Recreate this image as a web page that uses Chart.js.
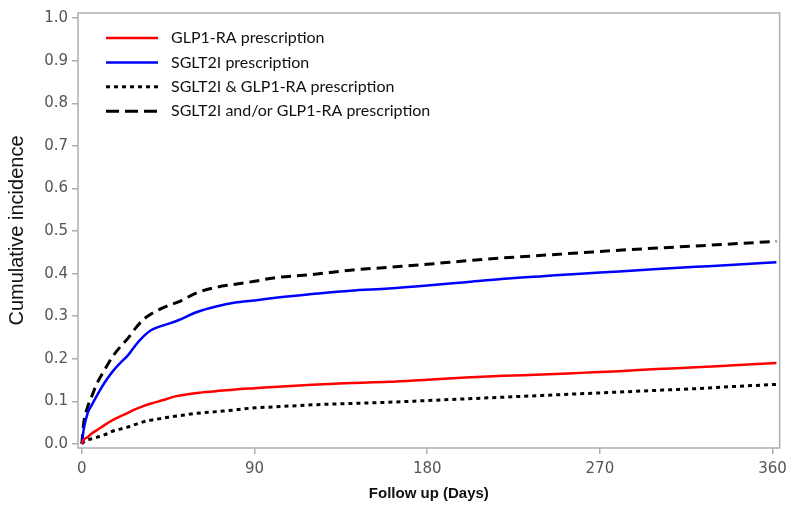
<!DOCTYPE html>
<html>
<head>
<meta charset="utf-8">
<script src="https://cdn.jsdelivr.net/npm/chart.js@4"></script>
<style>
  html, body { margin: 0; padding: 0; background: #fff; }
</style>
</head>
<body>
<canvas id="chart" width="793" height="512"></canvas>
<script>
const days = [0, 1, 3, 5, 8, 12, 16, 20, 24, 28, 32, 36, 40, 45, 50, 60, 70, 80, 90, 100,
  120, 140, 160, 180, 200, 220, 240, 260, 280, 300, 320, 340, 362];

const glp1 = [0, 0.010, 0.016, 0.024, 0.033, 0.045, 0.056, 0.065, 0.073, 0.082, 0.089, 0.095, 0.100, 0.107, 0.113, 0.120, 0.124, 0.128, 0.131, 0.134,
  0.139, 0.143, 0.146, 0.151, 0.156, 0.160, 0.163, 0.167, 0.171, 0.176, 0.180, 0.185, 0.190];

const sglt2 = [0, 0.035, 0.072, 0.090, 0.115, 0.145, 0.170, 0.190, 0.208, 0.232, 0.252, 0.267, 0.275, 0.282, 0.290, 0.310, 0.323, 0.332, 0.337, 0.343,
  0.352, 0.360, 0.365, 0.372, 0.380, 0.388, 0.394, 0.400, 0.405, 0.411, 0.416, 0.421, 0.427];

const both = [0, 0.005, 0.010, 0.012, 0.016, 0.022, 0.030, 0.035, 0.040, 0.046, 0.052, 0.056, 0.059, 0.063, 0.066, 0.072, 0.076, 0.080, 0.085, 0.087,
  0.092, 0.095, 0.098, 0.102, 0.106, 0.110, 0.114, 0.118, 0.122, 0.126, 0.130, 0.135, 0.140];

const either = [0, 0.050, 0.087, 0.110, 0.143, 0.175, 0.205, 0.228, 0.248, 0.272, 0.292, 0.305, 0.315, 0.325, 0.333, 0.355, 0.368, 0.375, 0.382, 0.390,
  0.398, 0.408, 0.415, 0.422, 0.430, 0.437, 0.443, 0.449, 0.455, 0.460, 0.465, 0.470, 0.476];

const xTicks = [0, 90, 180, 270, 360];
const yTicks = [0, 0.1, 0.2, 0.3, 0.4, 0.5, 0.6, 0.7, 0.8, 0.9, 1.0];

const labels = ['GLP1-RA prescription', 'SGLT2I prescription', 'SGLT2I & GLP1-RA prescription', 'SGLT2I and/or GLP1-RA prescription'];

const pts = arr => days.map((d, i) => ({ x: d, y: arr[i] }));

const axisGray = '#a9b1b3';
const tickFont = { family: 'DejaVu Sans', size: 15 };

// grey frame around the plot
const boxPlugin = {
  id: 'box',
  beforeDatasetsDraw(chart) {
    const { ctx, chartArea: a } = chart;
    ctx.save();
    ctx.strokeStyle = axisGray;
    ctx.lineWidth = 1.5;
    ctx.strokeRect(a.left, a.top, a.right - a.left, a.bottom - a.top);
    ctx.restore();
  }
};

// legend inside the plot, top left
const legendPlugin = {
  id: 'innerLegend',
  afterDatasetsDraw(chart) {
    const ctx = chart.ctx;
    ctx.save();
    ctx.font = '16px Lato';
    ctx.textBaseline = 'middle';
    chart.data.datasets.forEach((ds, i) => {
      const y = 38 + i * 24.4;
      ctx.beginPath();
      ctx.strokeStyle = ds.borderColor;
      ctx.lineWidth = ds.borderWidth;
      ctx.setLineDash(ds.legendDash || []);
      ctx.moveTo(106, y);
      ctx.lineTo(158, y);
      ctx.stroke();
      ctx.setLineDash([]);
      ctx.fillStyle = '#111';
      ctx.fillText(ds.label, 171, y);
    });
    ctx.restore();
  }
};

new Chart(document.getElementById('chart'), {
  type: 'line',
  data: {
    datasets: [
      { label: labels[0], data: pts(glp1), borderColor: '#ff0000', borderWidth: 2.5 },
      { label: labels[1], data: pts(sglt2), borderColor: '#0000ff', borderWidth: 2.5 },
      { label: labels[2], data: pts(both), borderColor: '#000000', borderWidth: 3, borderDash: [4, 4], legendDash: [4, 4] },
      { label: labels[3], data: pts(either), borderColor: '#000000', borderWidth: 3, borderDash: [10, 6], legendDash: [13, 6] }
    ]
  },
  options: {
    responsive: false,
    animation: false,
    elements: {
      point: { radius: 0 },
      line: { cubicInterpolationMode: 'monotone', borderCapStyle: 'butt' }
    },
    layout: { padding: { top: 12, right: 13, left: 0, bottom: 0 } },
    plugins: { legend: { display: false }, tooltip: { enabled: false } },
    scales: {
      x: {
        type: 'linear',
        min: -2,
        max: 363.7,
        afterBuildTicks: s => { s.ticks = xTicks.map(v => ({ value: v })); },
        afterFit: s => { s.height = 64; },
        grid: { drawOnChartArea: false, drawTicks: true, tickLength: 6, color: axisGray, lineWidth: 1.5 },
        border: { display: false },
        ticks: { font: tickFont, color: '#555', padding: 6, maxRotation: 0, callback: v => String(v) },
        title: {
          display: true,
          text: 'Follow up (Days)',
          font: { family: 'Liberation Sans', size: 15, weight: 'bold' },
          color: '#111',
          padding: { top: 0, bottom: 9 }
        }
      },
      y: {
        type: 'linear',
        min: -0.0094,
        max: 1.012,
        afterBuildTicks: s => { s.ticks = yTicks.map(v => ({ value: v })); },
        afterFit: s => { s.width = 78; },
        grid: { drawOnChartArea: false, drawTicks: true, tickLength: 6, color: axisGray, lineWidth: 1.5 },
        border: { display: false },
        ticks: { font: tickFont, color: '#555', padding: 4, callback: v => v.toFixed(1) },
        title: {
          display: true,
          text: 'Cumulative incidence',
          font: { family: 'Liberation Sans', size: 20 },
          color: '#111',
          padding: { top: 5, bottom: 0 }
        }
      }
    }
  },
  plugins: [boxPlugin, legendPlugin]
});
</script>
</body>
</html>
